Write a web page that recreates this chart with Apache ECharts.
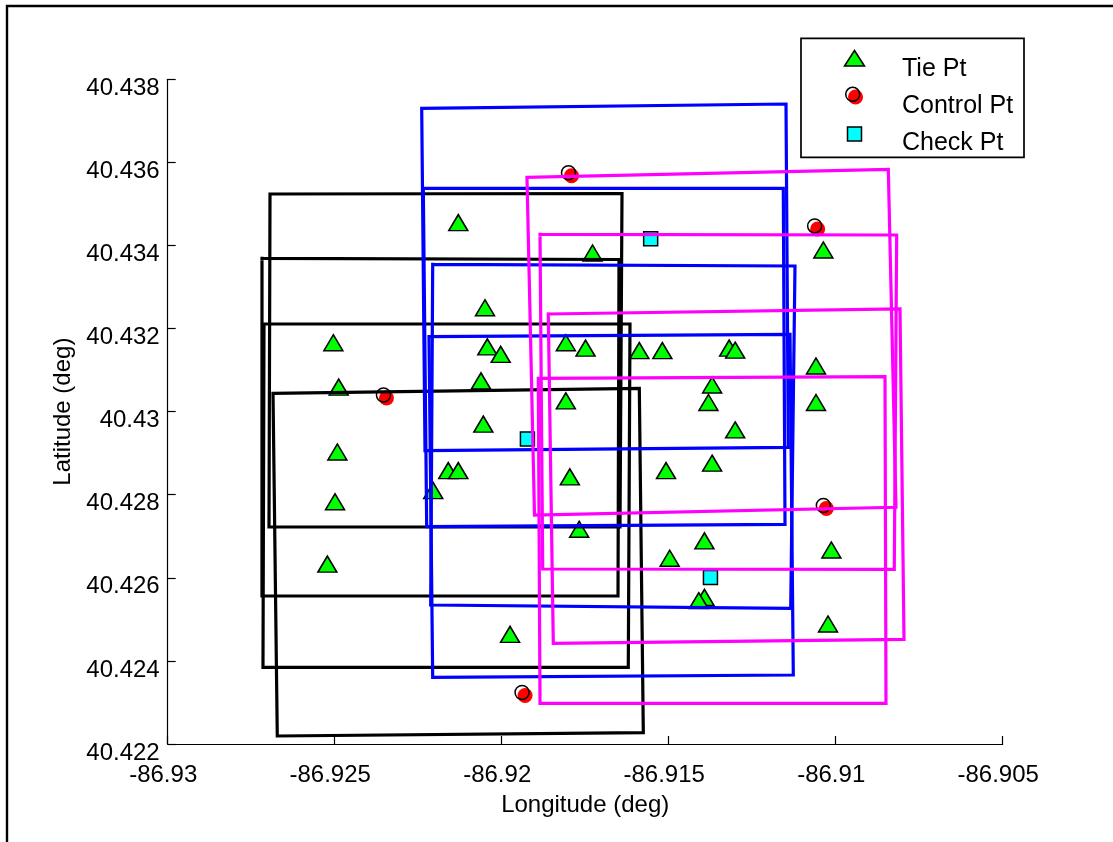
<!DOCTYPE html>
<html>
<head>
<meta charset="utf-8">
<script src="https://cdn.jsdelivr.net/npm/echarts@6/dist/echarts.min.js"></script>
<style>
  html, body { margin: 0; padding: 0; background: #fff; }
  #chart { width: 1113px; height: 842px; }
</style>
</head>
<body>
<div id="chart"></div>
<script>
// ---------- axis ticks ----------
const xTicks = [-86.93, -86.925, -86.92, -86.915, -86.91, -86.905];
const xTickLabels = ['-86.93', '-86.925', '-86.92', '-86.915', '-86.91', '-86.905'];
const yTicks = [40.422, 40.424, 40.426, 40.428, 40.43, 40.432, 40.434, 40.436, 40.438];
const yTickLabels = ['40.422', '40.424', '40.426', '40.428', '40.43', '40.432', '40.434', '40.436', '40.438'];

// ---------- image footprints (corner lon/lat) ----------
const blackBox1 = [[-86.926937, 40.435239], [-86.916398, 40.435251], [-86.916458, 40.427223], [-86.926967, 40.427223]];
const blackBox2 = [[-86.927177, 40.433691], [-86.916488, 40.433662], [-86.916518, 40.425562], [-86.927177, 40.425562]];
const blackBox3 = [[-86.927117, 40.432110], [-86.916159, 40.432110], [-86.916210, 40.423846], [-86.927147, 40.423846]];
const blackBox4 = [[-86.926847, 40.430442], [-86.915880, 40.430562], [-86.915760, 40.422272], [-86.926719, 40.422193]];

const blueBox1 = [[-86.922395, 40.437302], [-86.911488, 40.437405], [-86.911419, 40.429142], [-86.922296, 40.429060]];
const blueBox2 = [[-86.922347, 40.435376], [-86.911569, 40.435376], [-86.911518, 40.427288], [-86.922246, 40.427231]];
const blueBox3 = [[-86.922066, 40.433547], [-86.911219, 40.433506], [-86.911347, 40.425266], [-86.922126, 40.425346]];
const blueBox4 = [[-86.922177, 40.431804], [-86.911368, 40.431862], [-86.911269, 40.423661], [-86.922066, 40.423606]];

const magentaBox1 = [[-86.919243, 40.435641], [-86.908425, 40.435834], [-86.908195, 40.427698], [-86.919018, 40.427512]];
const magentaBox2 = [[-86.918853, 40.434269], [-86.908174, 40.434252], [-86.908246, 40.426205], [-86.918772, 40.426212]];
const magentaBox3 = [[-86.918605, 40.432351], [-86.908075, 40.432471], [-86.907955, 40.424520], [-86.918455, 40.424424]];
const magentaBox4 = [[-86.918904, 40.430803], [-86.908524, 40.430841], [-86.908494, 40.422980], [-86.918853, 40.422980]];

// ---------- points ----------
const tieLon = [-86.92130, -86.91728, -86.91037, -86.92050, -86.92504, -86.92043, -86.92003, -86.91808, -86.91749, -86.91588,
                -86.91519, -86.91319, -86.91301, -86.91059, -86.92488, -86.92062, -86.91370, -86.91808, -86.91381, -86.91059,
                -86.92055, -86.91301, -86.92492, -86.92160, -86.92130, -86.91508, -86.91370, -86.92205, -86.91796, -86.92499,
                -86.91768, -86.91393, -86.91497, -86.91013, -86.92522, -86.91393, -86.91410, -86.91975, -86.91023];
const tieLat = [40.43455, 40.43382, 40.43389, 40.43250, 40.43166, 40.43156, 40.43138, 40.43166, 40.43153, 40.43147,
                40.43147, 40.43153, 40.43148, 40.43110, 40.43059, 40.43074, 40.43064, 40.43026, 40.43022, 40.43022,
                40.42970, 40.42956, 40.42903, 40.42858, 40.42858, 40.42858, 40.42876, 40.42810, 40.42843, 40.42783,
                40.42717, 40.42689, 40.42647, 40.42667, 40.42633, 40.42553, 40.42545, 40.42464, 40.42489];

const ctrlLon = [-86.91800, -86.91063, -86.92354, -86.91037, -86.91939];
const ctrlLat = [40.43575, 40.43447, 40.43040, 40.42774, 40.42324];

const checkLon = [-86.91554, -86.91923, -86.91375];
const checkLat = [40.43416, 40.42934, 40.42601];

const legendLabels = ['Tie Pt', 'Control Pt', 'Check Pt'];

// ---------- build ----------
const FONT = '"Liberation Sans", Arial, Helvetica, sans-serif';
function closed(box) { return box.concat([box[0]]); }
function zip(a, b) { return a.map((v, i) => [v, b[i]]); }
function tickFmt(ticks, labels) {
  return function (v) {
    const i = ticks.findIndex(t => Math.abs(t - v) < 1e-7);
    return i >= 0 ? labels[i] : '';
  };
}
function boxSeries(box, color) {
  return {
    type: 'line', data: closed(box), symbol: 'none', silent: true, animation: false,
    clip: false,
    lineStyle: { color: color, width: 3.2, join: 'miter', cap: 'square' }
  };
}

const series = [];
[blackBox1, blackBox2, blackBox3, blackBox4].forEach(b => series.push(boxSeries(b, '#000000')));
[blueBox1, blueBox2, blueBox3, blueBox4].forEach(b => series.push(boxSeries(b, '#0000ff')));
[magentaBox1, magentaBox2, magentaBox3, magentaBox4].forEach(b => series.push(boxSeries(b, '#ff00ff')));

series.push({
  name: legendLabels[0], type: 'scatter', data: zip(tieLon, tieLat), symbol: 'triangle',
  symbolSize: [19, 16], animation: false,
  itemStyle: { color: '#00ff00', borderColor: '#000', borderWidth: 1.5, opacity: 1 }
});
series.push({
  name: legendLabels[1], type: 'scatter', data: zip(ctrlLon, ctrlLat), symbol: 'circle',
  symbolSize: 15, symbolOffset: [3, 3], animation: false,
  itemStyle: { color: '#ff0000', opacity: 1 }
});
series.push({
  name: legendLabels[1] + ' edge', type: 'scatter', data: zip(ctrlLon, ctrlLat), symbol: 'circle',
  symbolSize: 14, animation: false,
  itemStyle: { color: 'rgba(0,0,0,0)', borderColor: '#000', borderWidth: 1.5, opacity: 1 }
});
series.push({
  name: legendLabels[2], type: 'scatter', data: zip(checkLon, checkLat), symbol: 'rect',
  symbolSize: 14, animation: false,
  itemStyle: { color: '#00ffff', borderColor: '#000', borderWidth: 1.5, opacity: 1 }
});

const chart = echarts.init(document.getElementById('chart'), null, { renderer: 'canvas' });
chart.setOption({
  backgroundColor: '#ffffff',
  animation: false,
  grid: { left: 167.7, right: 110.3, top: 79.3, bottom: 98, containLabel: false },
  xAxis: {
    type: 'value', min: xTicks[0], max: xTicks[xTicks.length - 1], interval: 0.005,
    name: 'Longitude (deg)', nameLocation: 'middle', nameGap: 49,
    nameTextStyle: { fontFamily: FONT, fontSize: 24, color: '#000' },
    axisLine: { show: true, onZero: false, lineStyle: { color: '#000', width: 1.2 } },
    axisTick: { show: true, inside: true, length: 8, lineStyle: { color: '#000', width: 1.2 } },
    axisLabel: { formatter: tickFmt(xTicks, xTickLabels), fontFamily: FONT, fontSize: 24, color: '#000', margin: 19, padding: [0, 9, 0, 0], showMinLabel: true, showMaxLabel: true },
    splitLine: { show: false }
  },
  yAxis: {
    type: 'value', min: yTicks[0], max: yTicks[yTicks.length - 1], interval: 0.002,
    name: 'Latitude (deg)', nameLocation: 'middle', nameGap: 92,
    nameTextStyle: { fontFamily: FONT, fontSize: 24, color: '#000' },
    axisLine: { show: true, onZero: false, lineStyle: { color: '#000', width: 1.2 } },
    axisTick: { show: true, inside: true, length: 8, lineStyle: { color: '#000', width: 1.2 } },
    axisLabel: { formatter: tickFmt(yTicks, yTickLabels), fontFamily: FONT, fontSize: 24, color: '#000', margin: 8, verticalAlign: 'top', lineHeight: 18, showMinLabel: true, showMaxLabel: true },
    splitLine: { show: false }
  },
  graphic: [
    { type: 'rect', z: 200, silent: true, shape: { x: 7, y: 6, width: 1400, height: 1200 }, style: { fill: 'none', stroke: '#000', lineWidth: 2.4 } },
    { type: 'rect', z: 200, silent: true, shape: { x: 801, y: 38.3, width: 223, height: 119 }, style: { fill: '#fff', stroke: '#000', lineWidth: 1.7 } },
    { type: 'polygon', z: 201, silent: true, shape: { points: [[854.5, 50.5], [844.5, 66], [864.5, 66]] }, style: { fill: '#00ff00', stroke: '#000', lineWidth: 1.5 } },
    { type: 'circle', z: 201, silent: true, shape: { cx: 855.5, cy: 97, r: 7.5 }, style: { fill: '#ff0000' } },
    { type: 'circle', z: 202, silent: true, shape: { cx: 852.7, cy: 94.3, r: 7 }, style: { fill: 'none', stroke: '#000', lineWidth: 1.5 } },
    { type: 'rect', z: 201, silent: true, shape: { x: 847.5, y: 127, width: 14, height: 14 }, style: { fill: '#00ffff', stroke: '#000', lineWidth: 1.5 } },
    { type: 'text', z: 201, silent: true, style: { text: legendLabels[0], x: 902, y: 69, fill: '#000', font: '25px ' + FONT, textVerticalAlign: 'middle', verticalAlign: 'middle' } },
    { type: 'text', z: 201, silent: true, style: { text: legendLabels[1], x: 902, y: 106, fill: '#000', font: '25px ' + FONT, textVerticalAlign: 'middle', verticalAlign: 'middle' } },
    { type: 'text', z: 201, silent: true, style: { text: legendLabels[2], x: 902, y: 143, fill: '#000', font: '25px ' + FONT, textVerticalAlign: 'middle', verticalAlign: 'middle' } }
  ],
  series: series
});
</script>
</body>
</html>
